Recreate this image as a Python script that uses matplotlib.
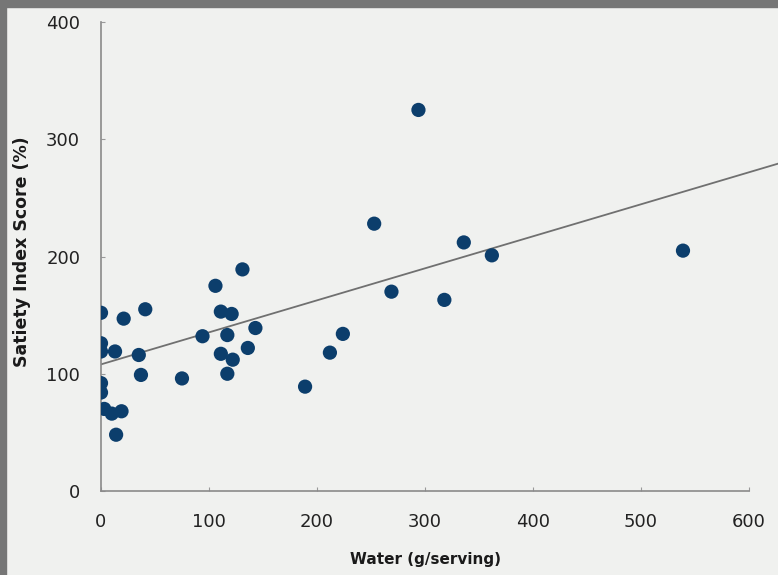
import matplotlib.pyplot as plt
from matplotlib.patches import Rectangle

# water content (g/serving) vs satiety index score (%)
water = [0, 0, 0, 0, 0, 3, 10, 19, 14, 13, 21, 35, 37, 41, 75, 94, 106, 111,
         111, 117, 117, 121, 122, 131, 136, 143, 189, 212, 224, 253, 269, 294,
         318, 336, 362, 539]
satiety = [152, 126, 119, 92, 84, 70, 66, 68, 48, 119, 147, 116, 99, 155, 96,
           132, 175, 153, 117, 133, 100, 151, 112, 189, 122, 139, 89, 118, 134,
           228, 170, 325, 163, 212, 201, 205]

# trend line
fit_x = [0, 640]
fit_y = [108, 108 + 0.273 * 640]

xticks = [0, 100, 200, 300, 400, 500, 600]
yticks = [0, 100, 200, 300, 400]

bg = "#f0f1ef"
navy = "#0c3e6c"

fig = plt.figure(figsize=(7.78, 5.75), dpi=100)
fig.patch.set_facecolor(bg)

# grey frame left over from the slide photo
fig.patches.append(Rectangle((0, 0.988), 1, 0.012, transform=fig.transFigure,
                             color="#767676", zorder=0))
fig.patches.append(Rectangle((0, 0), 0.008, 1, transform=fig.transFigure,
                             color="#767676", zorder=0))

ax = fig.add_axes([101 / 778, 1 - 491 / 575, 677 / 778, 469 / 575])
ax.set_facecolor(bg)

ax.plot(fit_x, fit_y, color="#707070", lw=1.3, zorder=2)
ax.scatter(water, satiety, s=105, color=navy, edgecolors="none", zorder=3)

ax.set_xlim(0, 627)
ax.set_ylim(0, 400)
ax.set_xticks(xticks)
ax.set_yticks(yticks)

for side in ["top", "right"]:
    ax.spines[side].set_visible(False)
for side in ["left", "bottom"]:
    ax.spines[side].set_color("#8a8a8a")
    ax.spines[side].set_linewidth(1.2)
ax.spines["bottom"].set_bounds(0, 600)

ax.tick_params(axis="x", direction="in", length=3, color="#999999",
               labelsize=13, pad=16, labelcolor="#222222")
ax.tick_params(axis="y", direction="in", length=3, color="#999999",
               labelsize=13, pad=15, labelcolor="#222222")

ax.set_xlabel("Water (g/serving)", fontsize=11, fontweight="bold",
              color="#1a1a1a")
ax.xaxis.set_label_coords(0.479, -0.13)
ax.set_ylabel("Satiety Index Score (%)", fontsize=12.5, fontweight="bold",
              color="#1a1a1a")
ax.yaxis.set_label_coords(-0.104, 0.51)

fig.savefig("out.png", dpi=100, facecolor=bg)
